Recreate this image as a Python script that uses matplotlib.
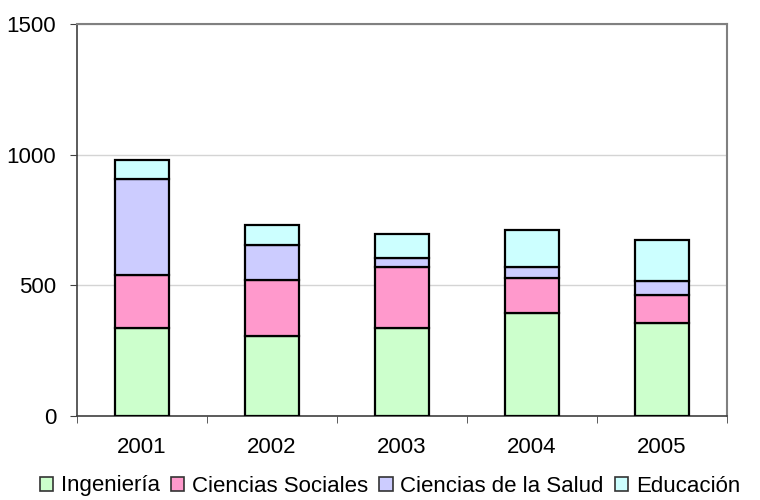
import numpy as np
import matplotlib.pyplot as plt
from matplotlib.patches import Patch

plt.rcParams['font.family'] = ['Liberation Sans', 'DejaVu Sans']

years = ['2001', '2002', '2003', '2004', '2005']
series_names = ['Ingeniería', 'Ciencias Sociales', 'Ciencias de la Salud', 'Educación']
ingenieria = [337, 306, 337, 396, 355]
sociales = [201, 216, 233, 132, 107]
salud = [368, 131, 35, 44, 54]
educacion = [75, 77, 93, 141, 156]
colors = ['#ccffcc', '#ff99cc', '#ccccff', '#ccffff']

fig = plt.figure(figsize=(7.6, 5.0), dpi=100)
ax = fig.add_axes([77 / 760, 1 - 416 / 500, 650 / 760, 392 / 500])

x = np.arange(len(years))
bottom = np.zeros(len(years))
for vals, col in zip([ingenieria, sociales, salud, educacion], colors):
    ax.bar(x, vals, 0.42, bottom=bottom, color=col, edgecolor='black', linewidth=1.6, zorder=3)
    bottom += np.array(vals)

ax.set_xlim(-0.5, len(years) - 0.5)
ax.set_ylim(0, 1500)
ax.set_yticks([0, 500, 1000, 1500])
ax.yaxis.grid(True, color='#d4d4d4', linewidth=1, zorder=0)

ax.set_xticks(x)
ax.set_xticklabels(years, fontsize=16)
ax.set_xticks(np.arange(-0.5, len(years)), minor=True)
ax.tick_params(axis='x', which='major', length=0, pad=15)
ax.tick_params(axis='x', which='minor', length=5, color='#404040')
ax.tick_params(axis='y', length=5, color='#404040', labelsize=16, pad=10)

for s in ['top', 'right']:
    ax.spines[s].set_color('#808080')
    ax.spines[s].set_linewidth(1.5)
for s in ['left', 'bottom']:
    ax.spines[s].set_color('#404040')
    ax.spines[s].set_linewidth(1.2)

handles = [Patch(facecolor=c, edgecolor='#333333', linewidth=1.2) for c in colors]
fig.legend(handles, series_names, loc='center', bbox_to_anchor=(0.513, 0.028), ncol=4,
           frameon=False, prop={'size': 16},
           handlelength=0.6, handleheight=0.6, handletextpad=0.35, columnspacing=0.5)

fig.savefig('out.png', dpi=100)
